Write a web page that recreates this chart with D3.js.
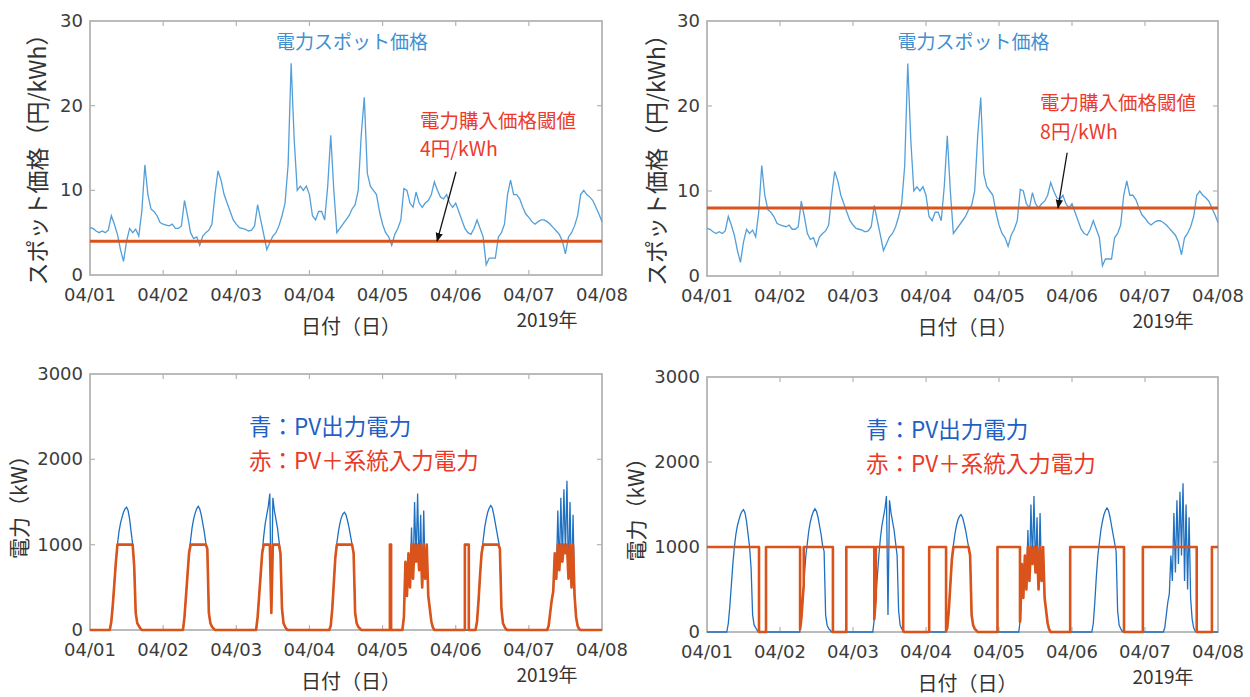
<!DOCTYPE html>
<html>
<head>
<meta charset="utf-8">
<script src="https://cdn.jsdelivr.net/npm/d3@7"></script>
<style>
body { margin: 0; background: #fff; }
text { font-family: "Noto Sans CJK JP", "Noto Sans", sans-serif; }
text.tick { font-family: "DejaVu Sans", sans-serif; }
</style>
</head>
<body>
<svg id="chart" width="1250" height="697"></svg>
<script>
// x axis: hours since 04/01 00:00
const dayTicks = [0, 24, 48, 72, 96, 120, 144, 168];
const dayLabels = ["04/01", "04/02", "04/03", "04/04", "04/05", "04/06", "04/07", "04/08"];
const priceTicks = [0, 10, 20, 30];
const powerTicks = [0, 1000, 2000, 3000];

// spot price (円/kWh), hourly, h0..h23 per day
const spot0401 = [5.6, 5.5, 5.2, 5.0, 5.2, 5.0, 5.3, 7.0, 6.0, 4.8, 3.0, 1.6, 4.0, 5.5, 5.0, 5.4, 4.6, 7.5, 13.0, 9.5, 7.8, 7.5, 7.0, 6.2];
const spot0402 = [6.0, 5.9, 5.8, 6.0, 5.5, 5.5, 5.8, 8.8, 7.0, 5.0, 4.3, 4.5, 3.5, 4.6, 5.0, 5.3, 6.0, 9.5, 12.3, 11.2, 9.5, 8.5, 7.5, 6.5];
const spot0403 = [6.0, 5.6, 5.5, 5.4, 5.2, 5.3, 5.8, 8.3, 6.5, 4.8, 3.0, 3.8, 4.6, 5.0, 5.8, 7.0, 8.5, 13.0, 25.0, 16.0, 10.0, 10.5, 10.0, 10.5];
const spot0404 = [9.5, 7.0, 6.5, 7.5, 7.5, 6.5, 10.5, 16.5, 10.0, 5.0, 5.5, 6.0, 6.5, 7.0, 7.8, 8.3, 10.0, 16.5, 21.0, 12.0, 10.5, 10.0, 9.5, 7.5];
const spot0405 = [6.0, 5.0, 4.5, 3.5, 4.8, 5.5, 6.5, 10.2, 10.0, 8.5, 8.0, 9.8, 8.5, 8.0, 8.5, 8.8, 9.5, 11.0, 10.0, 9.2, 9.0, 9.5, 8.5, 8.0];
const spot0406 = [8.5, 7.5, 6.5, 5.5, 5.0, 4.8, 5.5, 6.5, 5.5, 4.5, 1.2, 2.0, 2.0, 2.0, 4.5, 5.0, 6.0, 9.5, 11.2, 9.5, 9.5, 9.0, 8.0, 7.2];
const spot0407 = [6.8, 6.3, 6.0, 6.3, 6.5, 6.5, 6.3, 6.0, 5.6, 5.2, 4.8, 4.0, 2.5, 4.5, 5.0, 5.8, 7.0, 9.5, 10.0, 9.5, 9.2, 8.8, 8.0, 7.2];
const spotEnd = 6.3;
const spotDays = [spot0401, spot0402, spot0403, spot0404, spot0405, spot0406, spot0407];

// PV output (kW), every 30 min from 06:00 to 18:00, zero outside
const pvHours = [6, 6.5, 7, 7.5, 8, 8.5, 9, 9.5, 10, 10.5, 11, 11.5, 12, 12.5, 13, 13.5, 14, 14.5, 15, 15.5, 16, 16.5, 17, 17.5, 18];
const pv0401 = [0, 0, 100, 300, 550, 800, 1000, 1150, 1250, 1320, 1380, 1420, 1440, 1400, 1300, 1150, 1000, 750, 200, 80, 50, 20, 0, 0, 0];
const pv0402 = [0, 0, 150, 400, 650, 900, 1050, 1200, 1300, 1370, 1420, 1450, 1420, 1350, 1250, 1150, 1020, 950, 200, 80, 40, 20, 0, 0, 0];
const pv0403 = [0, 0, 150, 400, 650, 900, 1100, 1250, 1350, 1450, 1600, 200, 1550, 1400, 1300, 1200, 1050, 900, 250, 80, 40, 10, 0, 0, 0];
const pv0404 = [0, 0, 50, 250, 550, 850, 1020, 1150, 1250, 1320, 1360, 1380, 1350, 1280, 1200, 1100, 1000, 900, 200, 80, 40, 20, 0, 0, 0];
const pv0405 = [0, 0, 150, 800, 400, 900, 500, 1200, 600, 1500, 800, 1600, 700, 1350, 500, 1400, 600, 1000, 400, 250, 100, 30, 0, 0, 0];
const pv0406 = [0, 0, 100, 350, 650, 900, 1050, 1200, 1300, 1380, 1430, 1460, 1430, 1350, 1250, 1150, 1050, 950, 250, 80, 40, 10, 0, 0, 0];
const pv0407 = [0, 50, 200, 350, 450, 900, 600, 1400, 700, 1550, 800, 1650, 900, 1750, 600, 1500, 500, 1350, 400, 150, 50, 10, 0, 0, 0];
const pvDays = [pv0401, pv0402, pv0403, pv0404, pv0405, pv0406, pv0407];

// grid purchase periods [start, end] in hours since 04/01 00:00
const gridBuy4 = [[98.4, 98.8], [123.0, 124.3]];
const gridBuy8 = [[0, 17.1], [19.4, 30.6], [31.8, 41.4], [45.8, 55.0], [55.5, 64.5], [73.05, 78.6],
                  [95.5, 102.9], [119.4, 137.1], [143.3, 161.0], [166.0, 168]];
const powerCap = 1000;

const svg = d3.select("#chart");
const tickCol = "#3c3c3c";
const frameCol = "#b4b4b4";

function panel(box, yMax, yTicks) {
  const x = d3.scaleLinear().domain([0, 168]).range([box.x0, box.x1]);
  const y = d3.scaleLinear().domain([0, yMax]).range([box.y1, box.y0]);
  const g = svg.append("g");
  // inside ticks on all four sides
  dayTicks.slice(1, -1).forEach(t => {
    g.append("line").attr("x1", x(t)).attr("x2", x(t)).attr("y1", box.y1).attr("y2", box.y1 - 5).attr("stroke", frameCol).attr("stroke-width", 1.2);
    g.append("line").attr("x1", x(t)).attr("x2", x(t)).attr("y1", box.y0).attr("y2", box.y0 + 5).attr("stroke", frameCol).attr("stroke-width", 1.2);
  });
  yTicks.slice(1, -1).forEach(v => {
    g.append("line").attr("x1", box.x0).attr("x2", box.x0 + 5).attr("y1", y(v)).attr("y2", y(v)).attr("stroke", frameCol).attr("stroke-width", 1.2);
    g.append("line").attr("x1", box.x1).attr("x2", box.x1 - 5).attr("y1", y(v)).attr("y2", y(v)).attr("stroke", frameCol).attr("stroke-width", 1.2);
  });
  g.append("rect").attr("x", box.x0).attr("y", box.y0).attr("width", box.x1 - box.x0).attr("height", box.y1 - box.y0)
    .attr("fill", "none").attr("stroke", frameCol).attr("stroke-width", 1.8);
  g.selectAll(".xt").data(dayTicks).enter().append("text").attr("class", "tick")
    .attr("x", d => x(d)).attr("y", box.y1 + 26).attr("text-anchor", "middle")
    .attr("font-size", 18).attr("fill", tickCol).text((d, i) => dayLabels[i]);
  g.selectAll(".yt").data(yTicks).enter().append("text").attr("class", "tick")
    .attr("x", box.x0 - 7).attr("y", d => y(d) + 6).attr("text-anchor", "end")
    .attr("font-size", 18).attr("fill", tickCol).text(d => d);
  svg.append("text").attr("x", (box.x0 + box.x1) / 2 + 5).attr("y", box.y1 + 59).attr("text-anchor", "middle")
    .attr("font-size", 20).attr("fill", "#333").text("日付（日）");
  svg.append("text").attr("x", box.x1 - 55).attr("y", box.y1 + 52).attr("text-anchor", "middle")
    .attr("font-size", 19).attr("fill", "#333").text("2019年");
  return {x, y, g};
}

function spotPoints() {
  const pts = [];
  spotDays.forEach((arr, d) => arr.forEach((v, h) => pts.push([d * 24 + h, v])));
  pts.push([168, spotEnd]);
  return pts;
}

function pvPoints() {
  const pts = [[0, 0]];
  pvDays.forEach((arr, d) => {
    arr.forEach((v, i) => pts.push([d * 24 + pvHours[i], v]));
  });
  pts.push([168, 0]);
  return pts;
}

function pvAt(t) {
  const d = Math.floor(t / 24), h = t - d * 24;
  if (d > 6 || h <= pvHours[0] || h >= pvHours[pvHours.length - 1]) return 0;
  const i = d3.bisectRight(pvHours, h) - 1;
  const f = (h - pvHours[i]) / (pvHours[i + 1] - pvHours[i]);
  return pvDays[d][i] * (1 - f) + pvDays[d][i + 1] * f;
}

// PV + grid input: full 1000 kW while buying, otherwise PV clipped at 1000 kW
function inputPoints(periods) {
  const grid = [];
  pvDays.forEach((arr, d) => pvHours.forEach(h => grid.push(d * 24 + h)));
  dayTicks.forEach(t => grid.push(t));
  const evts = [];
  grid.forEach(t => evts.push({t, k: 1}));
  periods.forEach(([a, b]) => { evts.push({t: a, k: 0, s: "start"}); evts.push({t: b, k: 2, s: "end"}); });
  evts.sort((p, q) => p.t - q.t || p.k - q.k);
  const on = t => periods.some(([a, b]) => t > a && t < b);
  const pts = [];
  evts.forEach(e => {
    const off = Math.min(pvAt(e.t), powerCap);
    if (e.s === "start") { if (e.t > 0) pts.push([e.t, off]); pts.push([e.t, powerCap]); }
    else if (e.s === "end") { pts.push([e.t, powerCap]); if (e.t < 168) pts.push([e.t, off]); }
    else if (!on(e.t) && !periods.some(([a, b]) => e.t === a || e.t === b)) pts.push([e.t, off]);
  });
  return pts;
}

// arrow marker
svg.append("defs").append("marker").attr("id", "arr").attr("viewBox", "0 0 10 10")
  .attr("refX", 9).attr("refY", 5).attr("markerWidth", 7).attr("markerHeight", 7).attr("orient", "auto")
  .append("path").attr("d", "M0,1 L10,5 L0,9 z").attr("fill", "#111");

const boxes = [
  {x0: 90, x1: 602, y0: 21, y1: 275},
  {x0: 707, x1: 1218, y0: 21, y1: 276},
  {x0: 90, x1: 602, y0: 374, y1: 630},
  {x0: 707, x1: 1218, y0: 377, y1: 632}
];
const thresholds = [4, 8];
const arrows = [[[120.1, 12.2], [113.9, 4]], [[118.4, 14.5], [115.4, 8]]];
const noteAt = [[108.3, 17.4], [109.5, 19.5]];

// spot price panels
[0, 1].forEach(i => {
  const b = boxes[i];
  const p = panel(b, 30, priceTicks);
  p.g.append("path").datum(spotPoints())
    .attr("d", d3.line().x(d => p.x(d[0])).y(d => p.y(d[1])))
    .attr("fill", "none").attr("stroke", "#529fda").attr("stroke-width", 1.3);
  p.g.append("line").attr("x1", p.x(0)).attr("x2", p.x(168)).attr("y1", p.y(thresholds[i])).attr("y2", p.y(thresholds[i]))
    .attr("stroke", "#d9541c").attr("stroke-width", 3);
  svg.append("text").attr("x", p.x(84) + (i ? 11 : 6)).attr("y", b.y0 + 28).attr("text-anchor", "middle")
    .attr("font-size", 19).attr("fill", "#3f8fd2").text("電力スポット価格");
  const n = noteAt[i];
  const note = svg.append("text").attr("x", p.x(n[0])).attr("y", p.y(n[1])).attr("font-size", 19.5).attr("fill", "#eb3b2c");
  note.append("tspan").attr("x", p.x(n[0])).text("電力購入価格閾値");
  note.append("tspan").attr("x", p.x(n[0])).attr("dy", 28.5).text(thresholds[i] + "円/kWh");
  const a = arrows[i];
  svg.append("line").attr("x1", p.x(a[0][0])).attr("y1", p.y(a[0][1])).attr("x2", p.x(a[1][0])).attr("y2", p.y(a[1][1]))
    .attr("stroke", "#111").attr("stroke-width", 1.3).attr("marker-end", "url(#arr)");
  svg.append("text").attr("transform", `translate(${b.x0 - (i ? 42 : 44)},${(b.y0 + b.y1) / 2 + 6}) rotate(-90)`)
    .attr("text-anchor", "middle").attr("font-size", 23).attr("fill", "#333").text("スポット価格（円/kWh）");
});

// power panels
[[2, gridBuy4], [3, gridBuy8]].forEach(([i, periods]) => {
  const b = boxes[i];
  const p = panel(b, 3000, powerTicks);
  const line = d3.line().x(d => p.x(d[0])).y(d => p.y(d[1]));
  p.g.append("path").datum(pvPoints()).attr("d", line)
    .attr("fill", "none").attr("stroke", "#1f70c1").attr("stroke-width", 1.3);
  p.g.append("path").datum(inputPoints(periods)).attr("d", line)
    .attr("fill", "none").attr("stroke", "#d9531b").attr("stroke-width", 2.6).attr("stroke-linejoin", "round");
  svg.append("text").attr("x", b.x0 + 159).attr("y", b.y0 + 61).attr("font-size", 22.5).attr("fill", "#1f5fc6").text("青：PV出力電力");
  svg.append("text").attr("x", b.x0 + 159).attr("y", b.y0 + 95).attr("font-size", 22.5).attr("fill", "#ea3a26").text("赤：PV＋系統入力電力");
  svg.append("text").attr("transform", `translate(${b.x0 - 63},${(b.y0 + b.y1) / 2}) rotate(-90)`)
    .attr("text-anchor", "middle").attr("font-size", 21).attr("fill", "#333").text("電力（kW）");
});
</script>
</body>
</html>
